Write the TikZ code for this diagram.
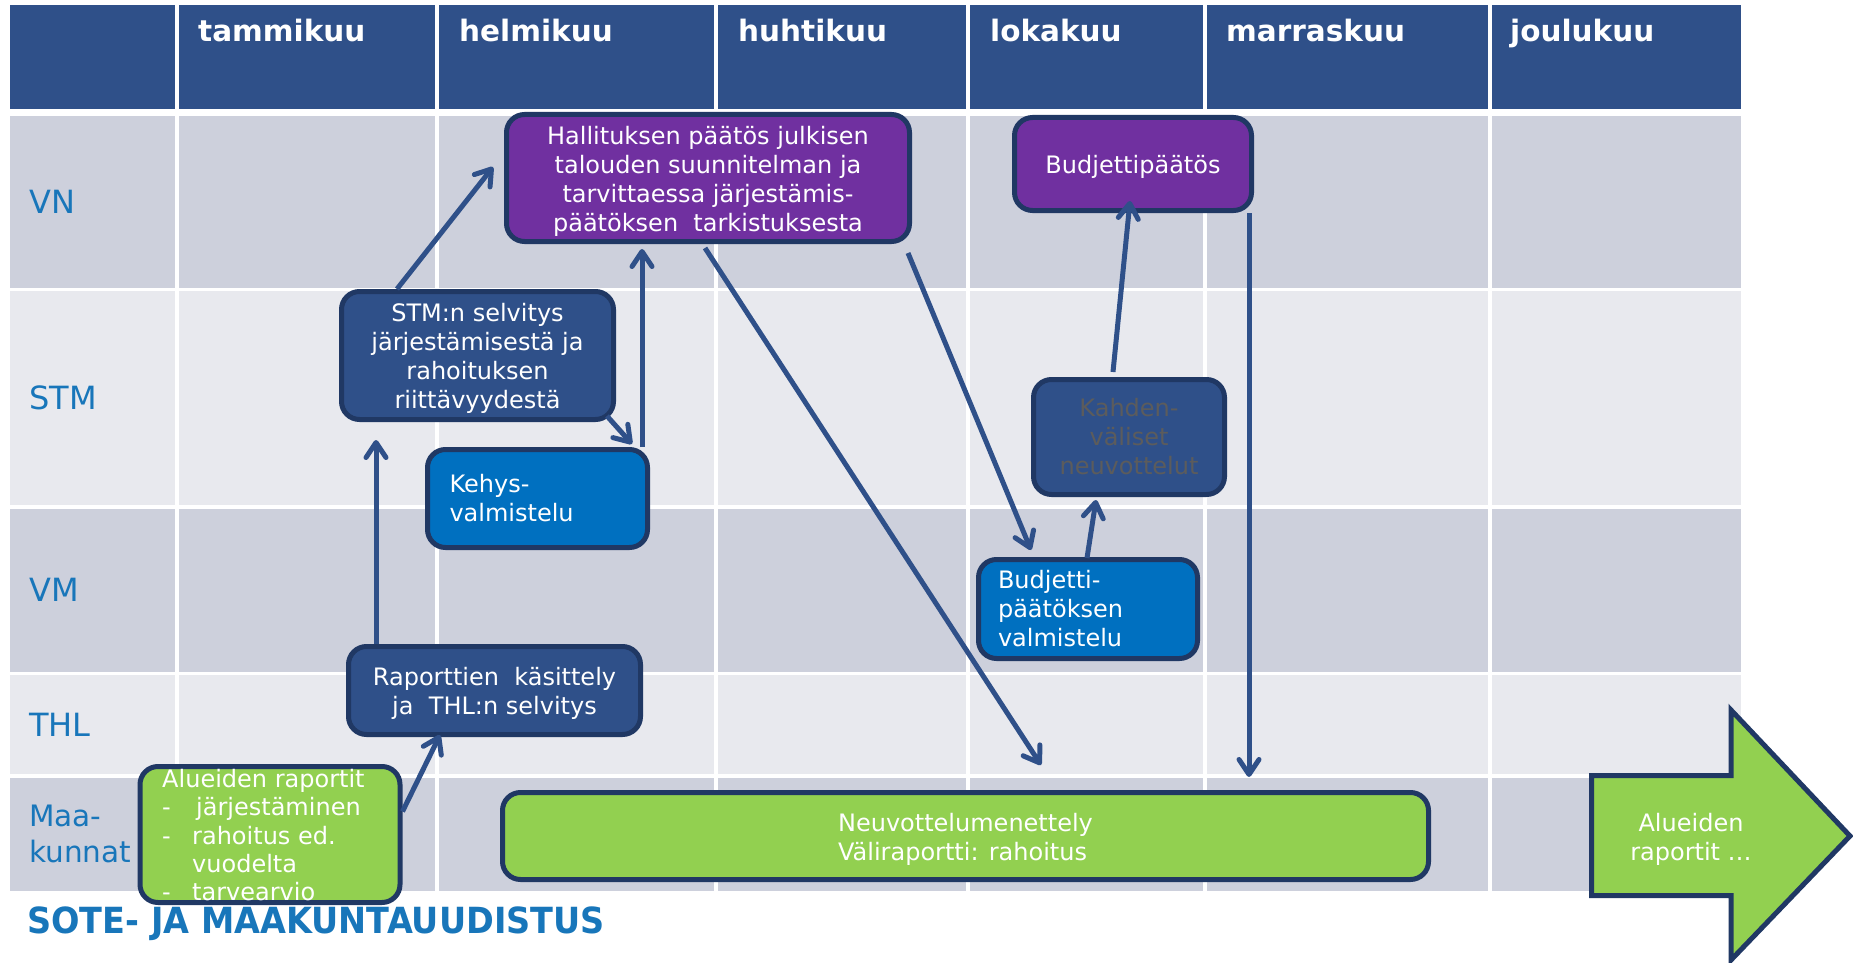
\documentclass[tikz,border=0pt]{standalone}
\usepackage{fontspec}
\usepackage{graphicx}
\setmainfont{DejaVu Sans}
\usetikzlibrary{arrows.meta,calc}
\definecolor{hdr}{RGB}{47,80,137}
\definecolor{rowdark}{RGB}{205,208,220}
\definecolor{rowlight}{RGB}{232,233,238}
\definecolor{lblue}{RGB}{24,118,186}
\definecolor{navy}{RGB}{32,56,100}
\definecolor{purp}{RGB}{112,48,160}
\definecolor{bblue}{RGB}{0,112,192}
\definecolor{grn}{RGB}{146,208,80}
\definecolor{arr}{RGB}{47,80,137}
\definecolor{graytxt}{RGB}{92,92,92}
\newcommand{\tophi}{\rule{0pt}{24pt}}
\begin{document}
\begin{tikzpicture}[x=1pt,y=-1pt,
  boxbase/.style={draw=navy, line width=5pt, rounded corners=18pt, text=white, font=\fontsize{24}{29}\selectfont, inner sep=0pt, align=center},
  purplebox/.style={boxbase, fill=purp},
  darkbox/.style={boxbase, fill=hdr},
  bluebox/.style={boxbase, fill=bblue},
  greenbox/.style={boxbase, fill=grn},
  flow/.style={draw=arr, line width=5pt, -{Straight Barb[length=15pt,width=20pt,round]}},
  month/.style={anchor=base west, text=white, font=\fontsize{29.5}{35}\selectfont\bfseries, inner sep=0pt},
  rowlabel/.style={anchor=west, text=lblue, font=\fontsize{32}{36}\selectfont, inner sep=0pt, align=left},
  sepline/.style={draw=white, line width=3.5pt}
]
\useasboundingbox (0,0) rectangle (1853,963);
\fill[white] (0,0) rectangle (1853,963);
% header
\fill[hdr] (10,5) rectangle (1741,109);
% rows
\fill[rowdark] (10,116) rectangle (1741,289.5);
\fill[rowlight] (10,289.5) rectangle (1741,507);
\fill[rowdark] (10,507) rectangle (1741,673.5);
\fill[rowlight] (10,673.5) rectangle (1741,776);
\fill[rowdark] (10,776) rectangle (1741,891);
\foreach \yy in {289.5,507,673.5,776} \draw[sepline] (10,\yy) -- (1741,\yy);
\foreach \xx in {177,437,716,968,1205,1490} {
  \draw[sepline] (\xx,5) -- (\xx,109);
  \draw[sepline] (\xx,116) -- (\xx,891);
}
% months
\node[month] (m1) at (198,42) {tammikuu};
\node[month] (m2) at (459,42) {helmikuu};
\node[month] (m3) at (738,42) {huhtikuu};
\node[month] (m4) at (990,42) {lokakuu};
\node[month] (m5) at (1226,42) {marraskuu};
\node[month] (m6) at (1510,42) {joulukuu};
% row labels
\node[rowlabel] (lvn) at (29,202) {VN};
\node[rowlabel] (lstm) at (29,398) {STM};
\node[rowlabel] (lvm) at (29,590) {VM};
\node[rowlabel] (lthl) at (29,724.5) {THL};
\node[rowlabel, font=\fontsize{29.5}{36}\selectfont] (lmaa) at (29,834) {Maa-\\kunnat};
% boxes
\node[purplebox, minimum width=403pt, minimum height=127pt] (hall) at (708,178) {\tophi Hallituksen päätös julkisen\\talouden suunnitelman ja\\tarvittaessa järjestämis-\\päätöksen~ tarkistuksesta};
\node[purplebox, minimum width=237pt, minimum height=93pt] (budj) at (1133,164) {\tophi Budjettipäätös};
\node[darkbox, minimum width=272pt, minimum height=128pt] (stm) at (477.5,355.5) {\tophi STM:n selvitys\\järjestämisestä ja\\rahoituksen\\riittävyydestä};
\node[bluebox, minimum width=220pt, minimum height=98pt, text width=176pt, align=left] (kehys) at (537.5,498.5) {Kehys-\\valmistelu};
\node[darkbox, text=graytxt, minimum width=191pt, minimum height=115pt] (kahden) at (1129,437) {Kahden-\\väliset\\neuvottelut};
\node[bluebox, minimum width=219pt, minimum height=99pt, text width=180pt, align=left] (bpv) at (1088,609) {Budjetti-\\päätöksen\\valmistelu};
\node[darkbox, minimum width=292pt, minimum height=88pt] (rap) at (494.5,690.5) {\tophi Raporttien~ käsittely\\ja~ THL:n selvitys};
\node[greenbox, minimum width=260pt, minimum height=136pt] (alue) at (270,834.5) {};
\node[anchor=north west, inner sep=0pt, text=white, font=\fontsize{24}{28.3}\selectfont, align=left] (aluetxt) at (162,769) {Alueiden raportit\\\makebox[34pt][l]{-}järjestäminen\\\makebox[30pt][l]{-}rahoitus ed.\\\hspace*{30pt}vuodelta\\\makebox[30pt][l]{-}tarvearvio};
\node[greenbox, minimum width=926pt, minimum height=87pt, align=left] (neuv) at (965.5,836) {\tophi Neuvottelumenettely\\Väliraportti: rahoitus};
% big arrow
\draw[draw=navy, line width=5pt, fill=grn] (1591.5,775.5) -- (1731,775.5) -- (1731,710) -- (1850,836) -- (1731,960) -- (1731,895.5) -- (1591.5,895.5) -- cycle;
\node[inner sep=0pt, text=white, font=\fontsize{24}{29}\selectfont, align=center] (bigtxt) at (1691,839) {Alueiden\\raportit \dots};
% connectors
\draw[flow] ($(stm.north west)+(58,0)$) -- ($(hall.west)+(-11,-11)$);
\draw[flow] ($(stm.south east)+(-9,-6)$) -- ($(kehys.north east)+(-18,-3)$);
\coordinate (a3s) at ($(kehys.north east)+(-8,0)$);
\coordinate (a3t) at ($(hall.south)+(0,5)$);
\draw[flow] (a3s) -- (a3s |- a3t);
\coordinate (a4s) at ($(rap.north west)+(30,0)$);
\coordinate (a4t) at ($(stm.south)+(0,18)$);
\draw[flow] (a4s) -- (a4s |- a4t);
\draw[flow] ($(alue.east)+(0,-23)$) -- ($(rap.south west)+(94,-2)$);
\draw[flow] ($(hall.south)+(-3,4)$) -- ($(neuv.north)+(75.5,-25)$);
\draw[flow] ($(hall.south east)+(-4,9)$) -- ($(bpv.north west)+(55,-7)$);
\draw[flow] ($(bpv.north)+(-1,1)$) -- ($(kahden.south)+(-33,3)$);
\draw[flow] ($(kahden.north)+(-16,-5)$) -- ($(budj.south)+(-3,-12)$);
\coordinate (a10s) at ($(budj.south east)+(-5,0)$);
\coordinate (a10t) at ($(neuv.north)+(0,-13)$);
\draw[flow] (a10s) -- (a10s |- a10t);
% title
\node[anchor=base west, inner sep=0pt, text=lblue, font=\fontsize{36}{40}\selectfont\bfseries] (title) at (27,933) {\scalebox{0.93}[1]{SOTE- JA MAAKUNTAUUDISTUS}};
\end{tikzpicture}
\end{document}
